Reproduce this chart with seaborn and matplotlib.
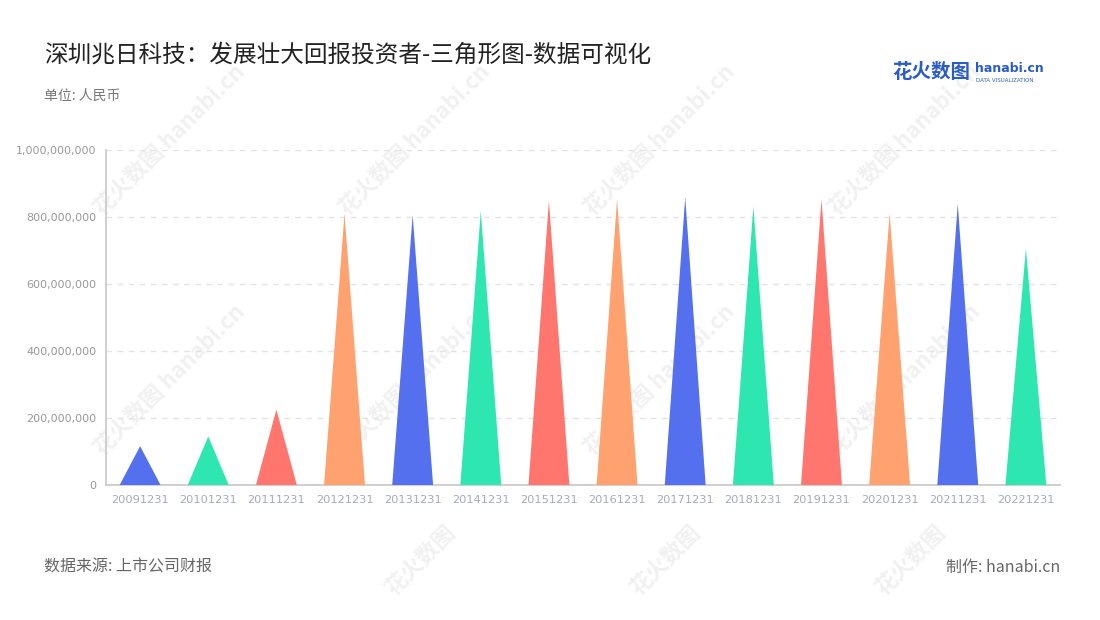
import matplotlib
matplotlib.use('Agg')
import matplotlib.pyplot as plt
import seaborn as sns
import pandas as pd
from matplotlib.patches import Polygon
from matplotlib.ticker import FuncFormatter

# data
years = ['20091231', '20101231', '20111231', '20121231', '20131231', '20141231', '20151231',
         '20161231', '20171231', '20181231', '20191231', '20201231', '20211231', '20221231']
values = [116e6, 145e6, 225e6, 811e6, 806e6, 818e6, 849e6,
          854e6, 859e6, 831e6, 853e6, 811e6, 839e6, 706e6]
palette = ['#5570EE', '#2EE6B0', '#FF766F', '#FFA26F']
colors = [palette[i % 4] for i in range(len(years))]
# the reference cycles blue, green, red, orange, blue ...

sns.set_theme(style='white')
plt.rcParams['font.family'] = ['Noto Sans CJK SC', 'DejaVu Sans']

df = pd.DataFrame({'year': years, 'value': values})

fig = plt.figure(figsize=(11, 6.2), dpi=100)
ax = fig.add_axes([0.0964, 0.2177, 0.8672, 0.5403])
ax.patch.set_visible(False)

sns.barplot(data=df, x='year', y='value', hue='year', palette=colors,
            width=0.6, saturation=1, legend=False, ax=ax)

# turn each bar into a triangle with the same base and height
for patch in list(ax.patches):
    x0 = patch.get_x()
    w = patch.get_width()
    h = patch.get_height()
    tri = Polygon([(x0, 0), (x0 + w / 2, h), (x0 + w, 0)], closed=True,
                  facecolor=patch.get_facecolor(), edgecolor='none', zorder=3)
    ax.add_patch(tri)
    patch.remove()

ax.set_ylim(0, 1e9)
ax.set_yticks([0, 2e8, 4e8, 6e8, 8e8, 1e9])
ax.yaxis.set_major_formatter(FuncFormatter(lambda v, p: f'{int(v):,}'))
ax.set_xlim(-0.5, len(years) - 0.5)
ax.set_xlabel('')
ax.set_ylabel('')

ax.grid(axis='y', color='#e3e3e3', linestyle=(0, (4, 4)), linewidth=1)
ax.set_axisbelow(True)
for s in ['top', 'right']:
    ax.spines[s].set_visible(False)
for s in ['left', 'bottom']:
    ax.spines[s].set_color('#cccccc')
    ax.spines[s].set_linewidth(1.3)
ax.tick_params(axis='both', which='both', length=4, width=1, color='#cccccc', pad=3)
ax.tick_params(axis='y', labelsize=8, labelcolor='#999999')
ax.tick_params(axis='x', labelsize=8.2, labelcolor='#a5aabb')
for lab in ax.get_xticklabels() + ax.get_yticklabels():
    lab.set_family('DejaVu Sans')

# faint watermarks, behind the plot
for wx in [170, 415, 660, 905]:
    for wy in [140, 380]:
        fig.text(wx / 1100, 1 - wy / 620, '花火数图 hanabi.cn', rotation=45,
                 fontsize=16, color='#f1f1f1', ha='center', va='center',
                 fontweight='bold', zorder=-1)
for wx in [420, 665, 910]:
    fig.text(wx / 1100, 1 - 560 / 620, '花火数图', rotation=45,
             fontsize=16, color='#f1f1f1', ha='center', va='center',
             fontweight='bold', zorder=-1)

fig.text(44 / 1100, 1 - 55 / 620, '深圳兆日科技：发展壮大回报投资者-三角形图-数据可视化',
         fontsize=17, color='#222222', ha='left', va='center')
fig.text(44 / 1100, 1 - 96 / 620, '单位: 人民币', fontsize=10, color='#777777',
         ha='left', va='center')
fig.text(44 / 1100, 1 - 567 / 620, '数据来源: 上市公司财报', fontsize=11.5, color='#666666',
         ha='left', va='center')
fig.text(1060 / 1100, 1 - 567 / 620, '制作: hanabi.cn', fontsize=11.5, color='#666666',
         ha='right', va='center')

# logo
fig.text(892 / 1100, 1 - 72 / 620, '花火数图', fontsize=14, color='#2a5cc8',
         ha='left', va='center', fontweight='bold')
fig.text(975 / 1100, 1 - 69 / 620, 'hanabi.cn', fontsize=9, color='#2a5cc8',
         ha='left', va='center', fontweight='bold', family='DejaVu Sans')
fig.text(976 / 1100, 1 - 80 / 620, 'DATA VISUALIZATION', fontsize=4, color='#2a5cc8',
         ha='left', va='center', family='DejaVu Sans')

fig.savefig('out.png', dpi=100, facecolor='white')
